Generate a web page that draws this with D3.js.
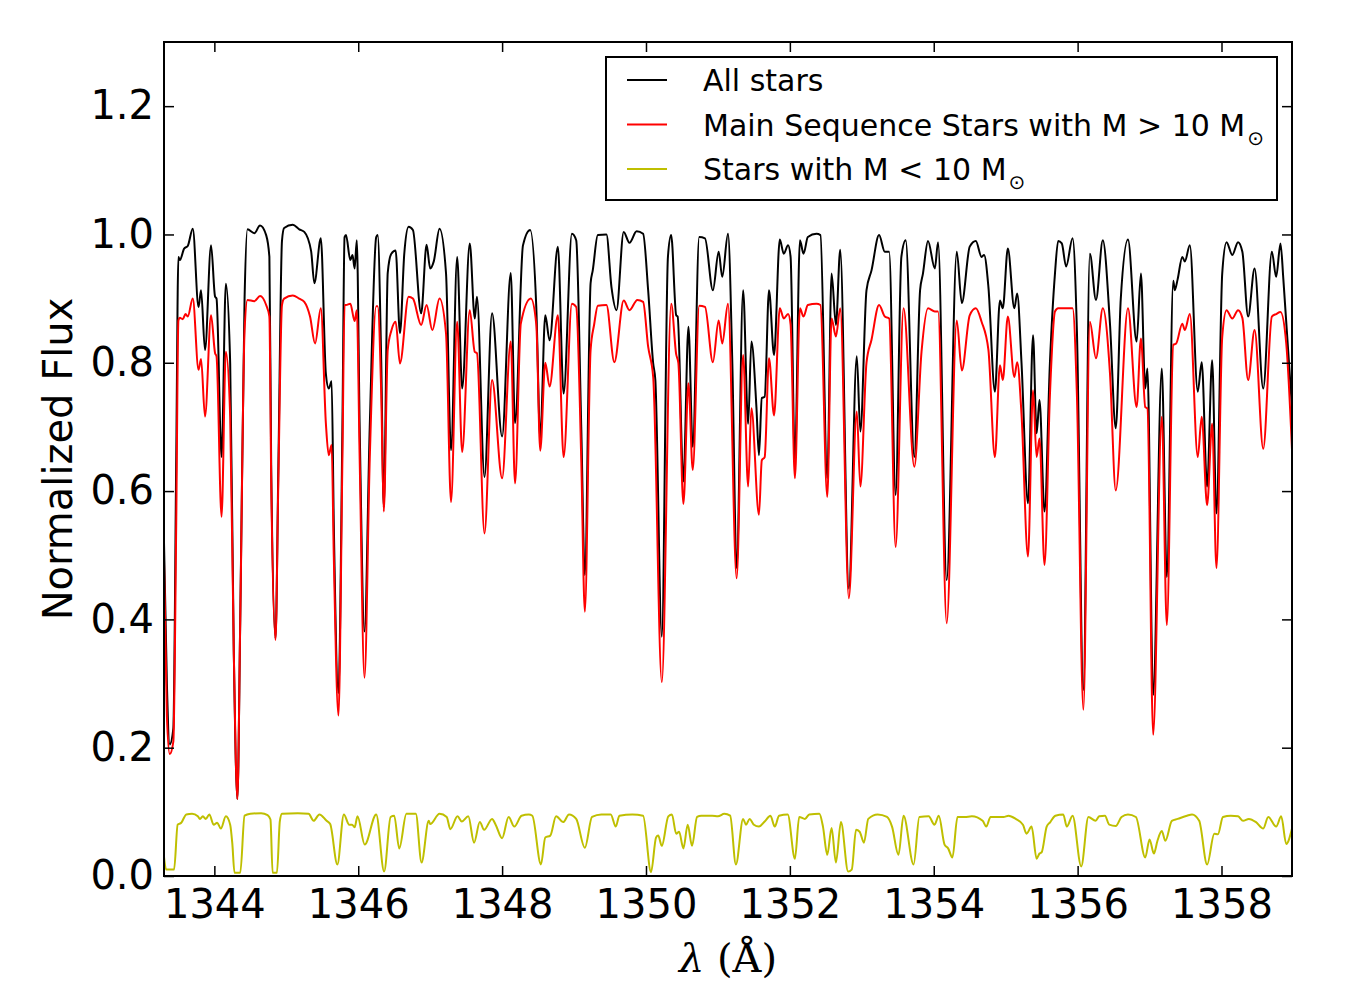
<!DOCTYPE html>
<html>
<head>
  <meta charset="utf-8">
  <title>Normalized Flux</title>
  <script src="https://d3js.org/d3.v7.min.js"></script>
  <style>
    body { margin: 0; background: #fff; }
    svg { font-family: "DejaVu Sans", sans-serif; }
    .tick text { font-size: 40px; fill: #000; }
    .tick line { stroke: #000; stroke-width: 1.5px; }
    .spec { fill: none; stroke-width: 2px; stroke-linejoin: round; }
  </style>
</head>
<body>
<svg width="1349" height="1000"></svg>
<script>
  // [wavelength in Angstrom, normalized flux]
  const allStars = [
    [1343.30,0.52],[1343.34,0.30],[1343.38,0.205],[1343.43,0.23],[1343.47,0.65],[1343.50,0.965],
    [1343.52,0.960],[1343.58,0.978],[1343.63,0.982],[1343.70,1.009],[1343.78,0.887],[1343.815,0.913],
    [1343.87,0.820],[1343.954,0.983],[1344.01,0.903],[1344.03,0.90],[1344.10,0.653],[1344.16,0.923],
    [1344.22,0.799],[1344.27,0.35],[1344.32,0.12],[1344.36,0.40],[1344.42,0.90],[1344.46,1.008],
    [1344.556,1.002],[1344.635,1.014],[1344.72,0.999],[1344.765,0.965],[1344.79,0.64],[1344.85,0.37],
    [1344.89,0.64],[1344.94,0.99],[1344.97,1.010],[1345.09,1.015],[1345.18,1.008],[1345.25,1.004],
    [1345.345,0.974],[1345.39,0.924],[1345.48,0.994],[1345.55,0.783],[1345.59,0.760],[1345.63,0.771],
    [1345.66,0.55],[1345.725,0.285],[1345.78,0.70],[1345.81,0.996],[1345.83,0.999],[1345.89,0.960],
    [1345.92,0.968],[1345.95,0.947],[1345.98,0.991],[1346.02,0.70],[1346.087,0.381],[1346.16,0.70],
    [1346.25,0.996],[1346.27,0.999],[1346.32,0.80],[1346.355,0.575],[1346.41,0.94],[1346.46,0.970],
    [1346.52,0.975],[1346.58,0.846],[1346.64,0.97],[1346.70,1.012],[1346.76,1.007],[1346.875,0.877],
    [1346.95,0.984],[1347.00,0.947],[1347.05,0.958],[1347.13,1.009],[1347.22,0.940],[1347.29,0.664],
    [1347.375,0.965],[1347.445,0.760],[1347.55,0.986],[1347.62,0.869],[1347.65,0.903],[1347.755,0.622],
    [1347.86,0.877],[1348.00,0.685],[1348.12,0.940],[1348.18,0.706],[1348.29,0.983],[1348.39,1.007],
    [1348.475,0.887],[1348.53,0.682],[1348.60,0.874],[1348.66,0.835],[1348.775,0.981],[1348.855,0.752],
    [1348.97,1.001],[1349.03,0.991],[1349.10,0.70],[1349.15,0.469],[1349.23,0.924],[1349.26,0.944],
    [1349.33,0.999],[1349.45,1.000],[1349.52,0.918],[1349.59,0.882],[1349.69,1.004],[1349.77,0.987],
    [1349.87,1.005],[1349.96,1.001],[1350.03,0.913],[1350.10,0.799],[1350.13,0.773],[1350.22,0.373],
    [1350.305,0.965],[1350.35,0.999],[1350.42,0.874],[1350.44,0.872],[1350.52,0.615],[1350.59,0.856],
    [1350.65,0.669],[1350.74,0.996],[1350.82,0.994],[1350.93,0.913],[1351.01,0.973],[1351.06,0.934],
    [1351.14,1.001],[1351.20,0.80],[1351.26,0.48],[1351.35,0.913],[1351.42,0.705],[1351.465,0.833],
    [1351.535,0.731],[1351.57,0.656],[1351.61,0.745],[1351.65,0.747],[1351.71,0.913],[1351.78,0.812],
    [1351.86,0.992],[1351.915,0.970],[1351.975,0.983],[1352.01,0.965],[1352.07,0.645],[1352.14,0.991],
    [1352.19,0.970],[1352.25,0.996],[1352.37,1.001],[1352.425,0.999],[1352.52,0.62],[1352.58,0.939],
    [1352.64,0.859],[1352.70,0.976],[1352.82,0.448],[1352.93,0.810],[1352.98,0.693],[1353.065,0.913],
    [1353.135,0.944],[1353.24,0.999],[1353.32,0.973],[1353.38,0.973],[1353.47,0.594],[1353.55,0.965],
    [1353.61,0.991],[1353.73,0.653],[1353.81,0.913],[1353.85,0.939],[1353.92,0.990],[1354.015,0.947],
    [1354.06,0.988],[1354.18,0.461],[1354.32,0.973],[1354.39,0.893],[1354.50,0.981],[1354.585,0.990],
    [1354.665,0.965],[1354.70,0.968],[1354.76,0.918],[1354.85,0.755],[1354.92,0.897],[1354.96,0.885],
    [1355.03,0.978],[1355.12,0.885],[1355.16,0.908],[1355.22,0.80],[1355.31,0.581],[1355.38,0.843],
    [1355.43,0.690],[1355.47,0.742],[1355.54,0.568],[1355.615,0.80],[1355.685,0.939],[1355.73,0.990],
    [1355.78,0.986],[1355.84,0.950],[1355.93,0.994],[1355.99,0.85],[1356.08,0.29],[1356.17,0.970],
    [1356.255,0.898],[1356.35,0.991],[1356.45,0.860],[1356.53,0.698],[1356.60,0.90],[1356.70,0.992],
    [1356.82,0.833],[1356.88,0.939],[1356.94,0.760],[1356.97,0.791],[1357.05,0.282],[1357.17,0.791],
    [1357.24,0.466],[1357.33,0.928],[1357.35,0.913],[1357.39,0.930],[1357.455,0.965],[1357.49,0.958],
    [1357.56,0.983],[1357.67,0.755],[1357.725,0.801],[1357.80,0.607],[1357.87,0.804],[1357.93,0.565],
    [1358.01,0.939],[1358.07,0.988],[1358.15,0.968],[1358.23,0.988],[1358.29,0.973],[1358.37,0.872],
    [1358.46,0.947],[1358.58,0.760],[1358.70,0.973],[1358.76,0.934],[1358.82,0.986],[1358.86,0.93],
    [1358.98,0.73]
  ];

  const massiveMS = [
    [1343.30,0.49],[1343.34,0.25],[1343.38,0.19],[1343.43,0.21],[1343.47,0.55],[1343.50,0.866],
    [1343.52,0.870],[1343.56,0.868],[1343.60,0.876],[1343.63,0.872],[1343.70,0.900],[1343.78,0.789],
    [1343.815,0.806],[1343.87,0.716],[1343.954,0.874],[1344.01,0.815],[1344.03,0.81],[1344.10,0.560],
    [1344.16,0.817],[1344.22,0.716],[1344.27,0.35],[1344.32,0.12],[1344.36,0.40],[1344.42,0.85],
    [1344.46,0.898],[1344.556,0.896],[1344.635,0.904],[1344.72,0.890],[1344.765,0.872],[1344.79,0.62],
    [1344.85,0.368],[1344.89,0.62],[1344.94,0.89],[1344.97,0.900],[1345.09,0.905],[1345.18,0.900],
    [1345.25,0.895],[1345.33,0.872],[1345.40,0.830],[1345.48,0.885],[1345.55,0.706],[1345.59,0.656],
    [1345.63,0.672],[1345.66,0.50],[1345.725,0.25],[1345.78,0.65],[1345.81,0.89],[1345.83,0.890],
    [1345.89,0.892],[1345.95,0.865],[1345.98,0.882],[1346.02,0.65],[1346.087,0.309],[1346.16,0.65],
    [1346.25,0.888],[1346.27,0.888],[1346.32,0.75],[1346.355,0.568],[1346.41,0.820],[1346.46,0.850],
    [1346.52,0.864],[1346.58,0.799],[1346.70,0.903],[1346.76,0.900],[1346.875,0.859],[1346.95,0.890],
    [1347.03,0.851],[1347.13,0.900],[1347.22,0.846],[1347.29,0.583],[1347.375,0.864],[1347.445,0.661],
    [1347.55,0.882],[1347.62,0.817],[1347.65,0.815],[1347.755,0.534],[1347.86,0.773],[1348.00,0.620],
    [1348.12,0.833],[1348.18,0.612],[1348.26,0.861],[1348.40,0.900],[1348.475,0.86],[1348.53,0.663],
    [1348.60,0.80],[1348.66,0.763],[1348.775,0.874],[1348.855,0.653],[1348.97,0.892],[1349.03,0.887],
    [1349.10,0.65],[1349.15,0.412],[1349.23,0.82],[1349.28,0.86],[1349.33,0.889],[1349.45,0.890],
    [1349.56,0.801],[1349.69,0.897],[1349.77,0.882],[1349.88,0.898],[1349.96,0.895],[1350.03,0.825],
    [1350.10,0.778],[1350.22,0.302],[1350.35,0.892],[1350.42,0.813],[1350.45,0.80],[1350.52,0.580],
    [1350.59,0.768],[1350.65,0.633],[1350.74,0.889],[1350.82,0.887],[1350.93,0.801],[1351.01,0.866],
    [1351.06,0.830],[1351.14,0.892],[1351.26,0.464],[1351.35,0.812],[1351.42,0.607],[1351.465,0.729],
    [1351.57,0.563],[1351.61,0.648],[1351.65,0.653],[1351.71,0.807],[1351.78,0.718],[1351.86,0.885],
    [1351.915,0.869],[1351.975,0.876],[1352.01,0.86],[1352.07,0.620],[1352.14,0.885],[1352.19,0.872],
    [1352.25,0.890],[1352.37,0.892],[1352.425,0.890],[1352.52,0.591],[1352.58,0.869],[1352.64,0.841],
    [1352.70,0.885],[1352.82,0.433],[1352.93,0.724],[1352.98,0.607],[1353.065,0.80],[1353.135,0.836],
    [1353.24,0.890],[1353.32,0.872],[1353.38,0.869],[1353.47,0.513],[1353.58,0.885],[1353.73,0.638],
    [1353.83,0.817],[1353.92,0.885],[1354.015,0.880],[1354.06,0.880],[1354.18,0.394],[1354.32,0.866],
    [1354.39,0.788],[1354.50,0.874],[1354.585,0.885],[1354.665,0.864],[1354.76,0.82],[1354.85,0.653],
    [1354.92,0.796],[1354.96,0.773],[1355.03,0.872],[1355.12,0.778],[1355.16,0.801],[1355.22,0.72],
    [1355.31,0.498],[1355.38,0.757],[1355.43,0.653],[1355.47,0.682],[1355.54,0.485],[1355.615,0.75],
    [1355.685,0.880],[1355.73,0.885],[1355.84,0.885],[1355.93,0.885],[1355.99,0.75],[1356.08,0.259],
    [1356.17,0.864],[1356.255,0.807],[1356.35,0.885],[1356.45,0.783],[1356.53,0.601],[1356.70,0.885],
    [1356.82,0.731],[1356.88,0.838],[1356.94,0.731],[1356.97,0.729],[1357.05,0.22],[1357.17,0.716],
    [1357.24,0.391],[1357.33,0.828],[1357.37,0.830],[1357.455,0.861],[1357.49,0.851],[1357.56,0.876],
    [1357.67,0.653],[1357.725,0.716],[1357.80,0.578],[1357.87,0.705],[1357.93,0.480],[1358.01,0.84],
    [1358.07,0.882],[1358.15,0.869],[1358.23,0.882],[1358.29,0.87],[1358.37,0.773],[1358.46,0.851],
    [1358.58,0.666],[1358.70,0.872],[1358.76,0.876],[1358.82,0.879],[1358.90,0.83],[1358.98,0.665]
  ];

  const lowMass = [
    [1343.30,0.03],[1343.33,0.01],[1343.44,0.01],[1343.49,0.080],[1343.54,0.083],[1343.61,0.096],
    [1343.69,0.097],[1343.77,0.093],[1343.80,0.089],[1343.84,0.093],[1343.88,0.089],[1343.93,0.096],
    [1343.99,0.080],[1344.04,0.083],[1344.09,0.074],[1344.16,0.093],[1344.22,0.080],[1344.25,0.05],
    [1344.28,0.005],[1344.36,0.005],[1344.42,0.094],[1344.50,0.097],[1344.65,0.098],[1344.74,0.095],
    [1344.78,0.088],[1344.81,0.005],[1344.87,0.005],[1344.91,0.085],[1344.94,0.097],[1345.16,0.098],
    [1345.31,0.097],[1345.38,0.086],[1345.46,0.096],[1345.56,0.086],[1345.61,0.081],[1345.71,0.018],
    [1345.80,0.096],[1345.875,0.080],[1345.915,0.080],[1345.95,0.076],[1345.99,0.093],[1346.09,0.049],
    [1346.25,0.096],[1346.36,0.007],[1346.45,0.092],[1346.50,0.094],[1346.57,0.043],[1346.67,0.097],
    [1346.80,0.097],[1346.88,0.021],[1346.98,0.086],[1347.00,0.081],[1347.13,0.097],[1347.23,0.092],
    [1347.28,0.073],[1347.38,0.093],[1347.44,0.085],[1347.53,0.093],[1347.61,0.052],[1347.69,0.084],
    [1347.75,0.072],[1347.86,0.089],[1347.91,0.080],[1348.00,0.059],[1348.09,0.092],[1348.17,0.077],
    [1348.27,0.094],[1348.37,0.096],[1348.42,0.094],[1348.54,0.018],[1348.60,0.060],[1348.67,0.063],
    [1348.75,0.093],[1348.85,0.084],[1348.93,0.096],[1349.03,0.089],[1349.15,0.044],[1349.25,0.092],
    [1349.38,0.096],[1349.51,0.096],[1349.58,0.077],[1349.63,0.094],[1349.81,0.096],[1349.96,0.094],
    [1350.07,0.006],[1350.14,0.060],[1350.17,0.063],[1350.22,0.047],[1350.31,0.093],[1350.36,0.096],
    [1350.42,0.066],[1350.46,0.069],[1350.52,0.043],[1350.58,0.080],[1350.64,0.047],[1350.71,0.092],
    [1350.77,0.094],[1350.92,0.094],[1351.00,0.093],[1351.09,0.097],[1351.17,0.094],[1351.25,0.018],
    [1351.35,0.089],[1351.39,0.080],[1351.44,0.089],[1351.50,0.080],[1351.57,0.077],[1351.65,0.085],
    [1351.73,0.094],[1351.79,0.077],[1351.85,0.094],[1351.97,0.096],[1352.07,0.027],[1352.13,0.092],
    [1352.21,0.089],[1352.27,0.096],[1352.41,0.097],[1352.46,0.077],[1352.52,0.033],[1352.58,0.075],
    [1352.64,0.021],[1352.71,0.084],[1352.81,0.007],[1352.86,0.010],[1352.92,0.072],[1352.97,0.069],
    [1353.03,0.052],[1353.09,0.089],[1353.22,0.096],[1353.35,0.092],[1353.42,0.077],[1353.51,0.033],
    [1353.58,0.094],[1353.72,0.018],[1353.80,0.092],[1353.93,0.093],[1354.01,0.080],[1354.07,0.094],
    [1354.15,0.049],[1354.20,0.043],[1354.26,0.029],[1354.33,0.092],[1354.43,0.092],[1354.53,0.093],
    [1354.68,0.086],[1354.73,0.077],[1354.79,0.092],[1354.97,0.092],[1355.04,0.094],[1355.14,0.089],
    [1355.24,0.080],[1355.29,0.066],[1355.36,0.077],[1355.43,0.027],[1355.47,0.035],[1355.50,0.037],
    [1355.57,0.077],[1355.62,0.084],[1355.69,0.094],[1355.80,0.096],[1355.85,0.077],[1355.93,0.094],
    [1356.05,0.015],[1356.15,0.092],[1356.25,0.086],[1356.30,0.093],[1356.38,0.094],[1356.44,0.080],
    [1356.53,0.078],[1356.61,0.092],[1356.70,0.096],[1356.81,0.092],[1356.94,0.029],[1357.00,0.057],
    [1357.06,0.035],[1357.11,0.055],[1357.17,0.070],[1357.22,0.055],[1357.31,0.086],[1357.39,0.089],
    [1357.52,0.094],[1357.59,0.096],[1357.69,0.086],[1357.80,0.018],[1357.90,0.066],[1357.95,0.065],
    [1358.02,0.092],[1358.13,0.094],[1358.23,0.093],[1358.30,0.086],[1358.38,0.089],[1358.48,0.084],
    [1358.58,0.074],[1358.65,0.092],[1358.76,0.077],[1358.83,0.093],[1358.90,0.050],[1358.98,0.074]
  ];

  const xTicks = [1344, 1346, 1348, 1350, 1352, 1354, 1356, 1358];
  const yTicks = [0.0, 0.2, 0.4, 0.6, 0.8, 1.0, 1.2];
  const seriesNames = ['All stars', 'Main Sequence Stars with M > 10 M', 'Stars with M < 10 M'];
  const seriesColors = ['#000000', '#ff0000', '#bfbf00'];

  const margin = { left: 164, right: 57, top: 42, bottom: 124 };
  const width = 1349, height = 1000;
  const x = d3.scaleLinear().domain([1343.3, 1358.98]).range([margin.left, width - margin.right]);
  const y = d3.scaleLinear().domain([0, 1.3]).range([height - margin.bottom, margin.top]);

  const svg = d3.select('svg');

  svg.append('clipPath').attr('id', 'plotclip')
    .append('rect')
    .attr('x', x.range()[0]).attr('y', y.range()[1])
    .attr('width', x.range()[1] - x.range()[0])
    .attr('height', y.range()[0] - y.range()[1]);

  const line = d3.line()
    .x(d => x(d[0]))
    .y(d => y(d[1]))
    .curve(d3.curveMonotoneX);

  const plot = svg.append('g').attr('clip-path', 'url(#plotclip)');
  [allStars, massiveMS, lowMass].forEach((s, i) => {
    plot.append('path')
      .attr('class', 'spec')
      .attr('d', line(s))
      .attr('stroke', seriesColors[i]);
  });

  // axes, ticks pointing inwards on all four sides
  const bottom = svg.append('g')
    .attr('transform', `translate(0,${y.range()[0]})`)
    .call(d3.axisBottom(x).tickValues(xTicks).tickSize(-10).tickPadding(12).tickFormat(d3.format('d')));
  bottom.selectAll('text').attr('dy', '0.76em');

  svg.append('g')
    .attr('transform', `translate(0,${y.range()[1]})`)
    .call(d3.axisTop(x).tickValues(xTicks).tickSize(-10).tickFormat(''));

  svg.append('g')
    .attr('transform', `translate(${x.range()[0]},0)`)
    .call(d3.axisLeft(y).tickValues(yTicks).tickSize(-10).tickPadding(10).tickFormat(d3.format('.1f')));

  svg.append('g')
    .attr('transform', `translate(${x.range()[1]},0)`)
    .call(d3.axisRight(y).tickValues(yTicks).tickSize(-10).tickFormat(''));

  svg.selectAll('.domain').remove();
  svg.selectAll('.tick text').attr('font-family', 'DejaVu Sans');

  svg.append('rect')
    .attr('x', x.range()[0]).attr('y', y.range()[1])
    .attr('width', x.range()[1] - x.range()[0])
    .attr('height', y.range()[0] - y.range()[1])
    .attr('fill', 'none').attr('stroke', '#000').attr('stroke-width', 2);

  // axis labels
  svg.append('text')
    .attr('transform', `translate(72,${(y.range()[0] + y.range()[1]) / 2}) rotate(-90)`)
    .attr('text-anchor', 'middle')
    .attr('font-size', 40)
    .text('Normalized Flux');

  const xl = svg.append('text')
    .attr('x', (x.range()[0] + x.range()[1]) / 2)
    .attr('y', 972)
    .attr('text-anchor', 'middle')
    .attr('font-family', 'DejaVu Serif')
    .attr('font-size', 40);
  xl.append('tspan').attr('font-style', 'italic').text('λ');
  xl.append('tspan').text(' (Å)');

  // legend
  const lg = svg.append('g');
  lg.append('rect')
    .attr('x', 606).attr('y', 57).attr('width', 671).attr('height', 143)
    .attr('fill', '#fff').attr('stroke', '#000').attr('stroke-width', 2);

  seriesNames.forEach((name, i) => {
    const yy = 80 + i * 44.5;
    lg.append('line')
      .attr('x1', 627).attr('x2', 667).attr('y1', yy).attr('y2', yy)
      .attr('stroke', seriesColors[i]).attr('stroke-width', 2);
    const t = lg.append('text')
      .attr('x', 703).attr('y', yy + 11)
      .attr('font-size', 30)
      .text(name);
    if (i > 0) {
      t.append('tspan').attr('font-size', 20).attr('dy', 9).attr('dx', 2).text('⊙');
    }
  });
</script>
</body>
</html>
